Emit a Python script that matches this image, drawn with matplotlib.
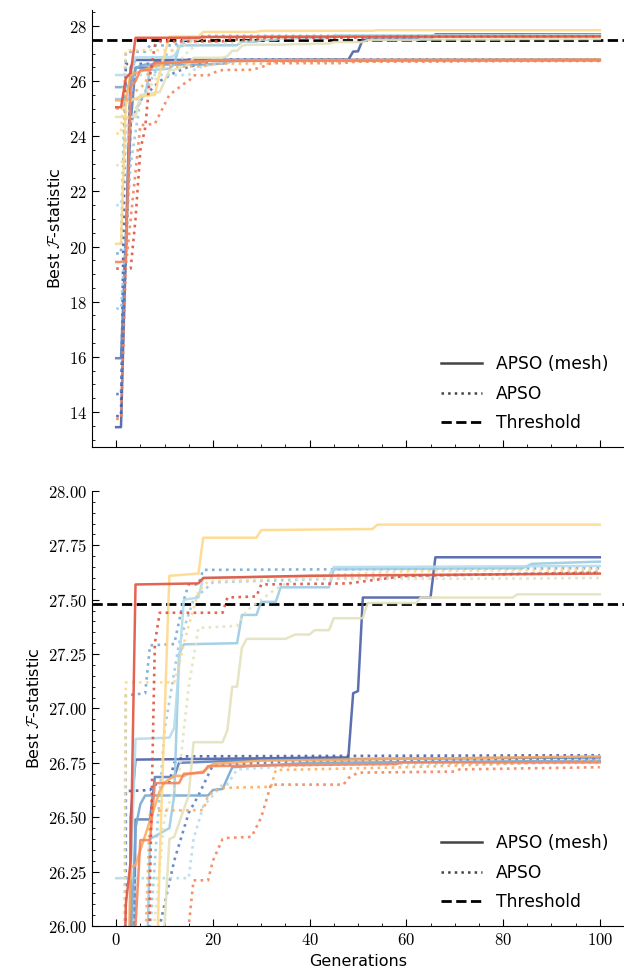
import numpy as np
import matplotlib
matplotlib.use("Agg")
import matplotlib.pyplot as plt
from matplotlib.ticker import MultipleLocator, FuncFormatter
from matplotlib.lines import Line2D

plt.rcParams['mathtext.fontset'] = 'cm'
plt.rcParams['font.family'] = ['DejaVu Sans']

threshold = 27.48
colors = ['#4a5fa8', '#5b7fbf', '#78a9d3', '#9bcbe4', '#b3dcee',
          '#e3e2bd', '#fed98b', '#fdac5f', '#f4845c', '#e2533f']

# APSO (mesh) runs, breakpoints (generation, best F)
mesh_g = [
    [0, 1, 2, 3, 4, 48, 49, 50, 51, 65, 66, 100],
    [0, 1, 3, 4, 7, 8, 12, 13, 30, 100],
    [0, 1, 2, 3, 4, 5, 6, 19, 20, 22, 24, 40, 100],
    [0, 5, 6, 7, 11, 12, 13, 14, 25, 26, 29, 30, 33, 34, 44, 45, 84, 86, 100],
    [0, 3, 4, 11, 12, 13, 14, 17, 18, 44, 45, 100],
    [0, 4, 5, 9, 11, 12, 15, 16, 22, 23, 24, 25, 26, 27, 35, 37, 40, 41, 44, 45, 51, 52, 62, 63, 82, 83, 100],
    [0, 1, 2, 5, 8, 9, 11, 17, 18, 29, 30, 53, 54, 100],
    [0, 2, 3, 4, 5, 8, 9, 10, 12, 14, 15, 18, 20, 30, 100],
    [0, 1, 2, 3, 4, 5, 7, 8, 13, 14, 15, 18, 19, 58, 59, 100],
    [0, 1, 2, 3, 4, 17, 18, 40, 100],
]
mesh_v = [
    [13.45, 13.45, 20.0, 26.5, 26.765, 26.775, 27.07, 27.08, 27.51, 27.51, 27.695, 27.695],
    [15.95, 15.95, 24.5, 26.49, 26.49, 26.685, 26.685, 26.75, 26.765, 26.775],
    [25.78, 25.78, 25.8, 25.85, 26.45, 26.56, 26.6, 26.6, 26.625, 26.63, 26.73, 26.75, 26.76],
    [25.35, 25.35, 25.5, 26.4, 26.45, 26.6, 27.25, 27.295, 27.30, 27.43, 27.43, 27.49, 27.49, 27.557, 27.557, 27.64, 27.645, 27.665, 27.675],
    [26.22, 26.22, 26.86, 26.866, 26.91, 27.2, 27.5, 27.51, 27.6, 27.61, 27.65, 27.655],
    [24.7, 24.7, 25.5, 25.6, 26.4, 26.41, 26.6, 26.845, 26.845, 26.9, 27.1, 27.1, 27.28, 27.32, 27.32, 27.34, 27.34, 27.36, 27.36, 27.415, 27.415, 27.485, 27.485, 27.51, 27.51, 27.525, 27.525],
    [20.1, 20.1, 25.2, 25.45, 25.5, 26.3, 27.61, 27.62, 27.785, 27.785, 27.82, 27.825, 27.845, 27.845],
    [25.3, 25.3, 26.27, 26.28, 26.35, 26.55, 26.62, 26.66, 26.69, 26.69, 26.70, 26.71, 26.745, 26.76, 26.78],
    [19.44, 19.44, 19.5, 25.8, 26.0, 26.395, 26.395, 26.657, 26.657, 26.70, 26.70, 26.705, 26.735, 26.745, 26.752, 26.752],
    [25.05, 25.05, 26.1, 26.3, 27.57, 27.575, 27.60, 27.61, 27.62],
]

# APSO runs
apso_g = [
    [0, 1, 2, 7, 8, 11, 12, 14, 100],
    [0, 1, 3, 5, 9, 12, 15, 17, 20, 40, 100],
    [0, 1, 2, 6, 7, 12, 13, 14, 15, 17, 18, 100],
    [0, 1, 3, 5, 8, 10, 13, 16, 20, 50, 100],
    [0, 1, 3, 4, 15, 16, 18, 20, 22, 23, 25, 40, 100],
    [0, 1, 4, 7, 10, 13, 15, 17, 25, 27, 33, 37, 82, 100],
    [0, 1, 2, 12, 13, 14, 17, 19, 30, 31, 60, 100],
    [0, 1, 3, 6, 7, 18, 19, 21, 22, 32, 33, 60, 100],
    [0, 1, 2, 5, 8, 11, 14, 15, 16, 19, 20, 22, 23, 28, 30, 32, 47, 48, 50, 70, 71, 100],
    [0, 3, 4, 5, 6, 7, 8, 9, 22, 23, 29, 30, 48, 60, 100],
]
apso_v = [
    [13.85, 13.85, 26.62, 26.625, 26.65, 26.66, 26.75, 26.78, 26.785],
    [14.65, 14.65, 24.5, 25.3, 26.0, 26.3, 26.52, 26.6, 26.74, 26.76, 26.77],
    [19.75, 19.75, 27.06, 27.07, 27.29, 27.296, 27.4, 27.5, 27.57, 27.57, 27.637, 27.645],
    [17.75, 17.75, 23.0, 25.3, 26.3, 26.9, 27.3, 27.5, 27.58, 27.6, 27.63],
    [21.5, 21.5, 25.6, 26.22, 26.22, 26.4, 26.55, 26.6, 26.65, 26.65, 26.72, 26.74, 26.75],
    [22.95, 22.95, 25.0, 25.8, 26.5, 26.7, 27.1, 27.37, 27.38, 27.45, 27.55, 27.595, 27.597, 27.6],
    [24.1, 24.1, 27.12, 27.12, 27.2, 27.3, 27.537, 27.585, 27.59, 27.6, 27.63, 27.64],
    [25.0, 25.0, 25.5, 25.9, 26.53, 26.533, 26.6, 26.63, 26.635, 26.64, 26.717, 26.73, 26.76],
    [13.75, 13.75, 19.3, 24.4, 24.45, 25.5, 25.9, 26.0, 26.21, 26.21, 26.3, 26.4, 26.405, 26.41, 26.5, 26.65, 26.65, 26.68, 26.705, 26.71, 26.72, 26.73],
    [19.2, 19.2, 21.0, 23.5, 24.3, 26.2, 27.3, 27.44, 27.44, 27.51, 27.515, 27.57, 27.575, 27.61, 27.624],
]

fig = plt.figure(figsize=(6.24, 9.76), dpi=100)
ax1 = fig.add_axes([0.1474, 0.542, 0.8526, 0.4478])
ax2 = fig.add_axes([0.1474, 0.0512, 0.8526, 0.4458])

for ax in (ax1, ax2):
    ax.axhline(threshold, color='k', ls='--', lw=2, zorder=1)
    for i, c in enumerate(colors):
        ax.plot(mesh_g[i], mesh_v[i], color=c, lw=1.8, alpha=0.9, zorder=2)
        ax.plot(apso_g[i], apso_v[i], color=c, lw=1.9, ls=':', alpha=0.9, zorder=2)
    ax.set_xlim(-5, 105)
    ax.spines['top'].set_visible(False)
    ax.spines['right'].set_visible(False)
    ax.xaxis.set_major_locator(MultipleLocator(20))
    ax.xaxis.set_minor_locator(MultipleLocator(5))
    ax.tick_params(which='both', direction='in', labelsize=12)
    ax.tick_params(which='major', length=5)
    ax.tick_params(which='minor', length=2.5)
    ax.set_ylabel(r'Best $\mathcal{F}$-statistic', fontsize=11.5)
    handles = [Line2D([], [], color='#444444', lw=1.8),
               Line2D([], [], color='#444444', lw=1.8, ls=':'),
               Line2D([], [], color='k', lw=2, ls='--')]
    ax.legend(handles, ['APSO (mesh)', 'APSO', 'Threshold'], loc='lower right',
              frameon=False, fontsize=12.3, handlelength=2.4, labelspacing=0.65)

ax1.set_ylim(12.73, 28.58)
ax1.yaxis.set_major_locator(MultipleLocator(2))
ax1.yaxis.set_minor_locator(MultipleLocator(0.5))
ax1.yaxis.set_major_formatter(FuncFormatter(lambda v, p: f'${v:g}$'))
ax1.set_xticklabels([])

ax2.set_ylim(26, 28)
ax2.yaxis.set_major_locator(MultipleLocator(0.25))
ax2.yaxis.set_minor_locator(MultipleLocator(0.05))
ax2.yaxis.set_major_formatter(FuncFormatter(lambda v, p: f'${v:.2f}$'))
ax2.xaxis.set_major_formatter(FuncFormatter(lambda v, p: f'${v:g}$'))
ax2.set_xlabel('Generations', fontsize=11.5)

fig.savefig('out.png', dpi=100)
